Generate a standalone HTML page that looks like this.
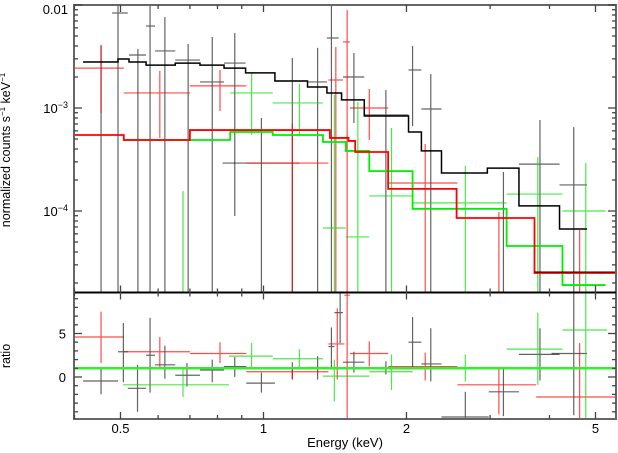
<!DOCTYPE html>
<html><head><meta charset="utf-8"><style>
body{margin:0;background:#fff;}
svg{display:block;font-family:"Liberation Sans",sans-serif;}
</style></head><body>
<svg id="chart" width="618" height="453" viewBox="0 0 618 453" xmlns="http://www.w3.org/2000/svg">
<defs>
<clipPath id="cTop"><rect x="74" y="5" width="542" height="287"/></clipPath>
<clipPath id="cBot"><rect x="74" y="292" width="542" height="127"/></clipPath>
</defs>
<g id="gTop" clip-path="url(#cTop)"></g>
<g id="gBot" clip-path="url(#cBot)"></g>
<g id="gAxes"></g>
<text x="10" y="150" font-size="12.5" text-anchor="middle" transform="rotate(-90 10 150)">normalized counts s<tspan font-size="8" dy="-5">−1</tspan><tspan dy="5"> keV</tspan><tspan font-size="8" dy="-5">−1</tspan></text>
<text x="10" y="356" font-size="12.5" text-anchor="middle" transform="rotate(-90 10 356)">ratio</text>
<text x="345" y="447" font-size="13" text-anchor="middle">Energy (keV)</text>
</svg>
<script>
// model step edges (keV) and values (counts s^-1 keV^-1)
const blackEdges=[0.417,0.494,0.521,0.566,0.652,0.735,0.826,0.917,1.057,1.238,1.36,1.46,1.63,2.02,2.15,2.37,2.96,3.45,4.2,4.8];
const blackModel=[2.8e-3,2.99e-3,2.8e-3,2.61e-3,2.73e-3,2.61e-3,2.44e-3,2.19e-3,1.83e-3,1.6e-3,1.4e-3,1.2e-3,8.36e-4,5.85e-4,3.83e-4,2.34e-4,2.61e-4,1.12e-4,6.68e-5];
const redEdges=[0.399,0.508,0.700,1.38,1.51,1.56,1.83,2.55,3.72,5.5];
const redModel=[5.47e-4,4.89e-4,6.11e-4,5.12e-4,4.79e-4,3.74e-4,1.64e-4,8.55e-5,2.5e-5];
const greenEdges=[0.508,0.851,1.046,1.334,1.49,1.67,2.06,3.25,4.26,5.25];
const greenModel=[4.89e-4,5.85e-4,5.47e-4,4.68e-4,3.83e-4,2.44e-4,1.05e-4,4.57e-5,1.91e-5];
const extraEdges=[3.72,5.5];
const extraModel=[2.56e-5];
// data points: [Elo, Ehi, E, value, errTop, errBottom]
const blackData=[[0.417,0.494,0.455,2.8e-3,4.09e-3,1e-5],[0.48,0.518,0.494,8.36e-3,1e-2,1e-5],[0.521,0.566,0.544,3.27e-3,3.74e-3,1e-5],[0.566,0.591,0.577,6.25e-3,1e-2,1e-5],[0.591,0.652,0.62,3.58e-3,7.65e-3,1e-5],[0.652,0.735,0.694,2.92e-3,4.18e-3,1e-5],[0.735,0.826,0.78,1.79e-3,4.89e-3,1e-5],[0.826,0.917,0.87,2.73e-3,5.35e-3,8.94e-5],[0.82,1.19,0.99,2.92e-4,8.0e-4,1e-5],[1.057,1.238,1.15,1.83e-3,3.06e-3,1e-5],[1.238,1.36,1.30,1.79e-3,3.83e-3,1e-5],[1.36,1.44,1.39,4.78e-3,1e-2,1e-5],[1.47,1.63,1.55,2.0e-3,3.42e-3,7.15e-4],[2.02,2.15,2.06,2.34e-3,4.0e-3,6.68e-4],[2.15,2.37,2.25,9.78e-4,2.14e-3,1e-5],[1.63,2.02,1.81,8.55e-4,1.5e-3,1e-5],[3.45,4.2,3.82,2.85e-4,7.64e-4,1e-5],[2.96,3.45,3.20,1.3e-5,2.39e-4,1e-5],[4.2,4.8,4.5,1.79e-4,6.53e-4,1e-5]];
const redData=[[0.399,0.508,0.455,2.44e-3,4.0e-3,8.94e-4],[0.508,0.70,0.605,1.4e-3,2.29e-3,5.12e-4],[0.70,0.92,0.81,1.64e-3,2.34e-3,9.35e-4],[0.92,1.37,1.15,2.92e-4,7.0e-4,1e-5],[1.37,1.47,1.42,1.87e-3,3.91e-3,1e-5],[1.47,1.52,1.50,4.38e-3,8.94e-3,1e-5],[1.52,1.83,1.67,1.0e-3,1.53e-3,4.89e-4],[1.83,2.56,2.19,1.87e-4,4.47e-4,1e-5],[2.9,3.3,3.13,1.3e-5,9.78e-5,1e-5],[4.5,4.8,4.63,1.3e-5,6.54e-5,1e-5]];
const greenData=[[0.6,0.75,0.677,1.3e-5,1.56e-4,1e-5],[0.851,1.046,0.944,1.4e-3,2.24e-3,5.47e-4],[1.046,1.334,1.19,1.12e-3,1.71e-3,5.47e-4],[1.334,1.49,1.41,6.84e-5,1.34e-3,1e-5],[1.49,1.67,1.58,5.6e-5,1.14e-3,1e-5],[1.67,2.06,1.86,1.4e-4,6.39e-4,1e-5],[2.06,3.25,2.66,1.2e-4,2.74e-4,1e-5],[3.25,4.26,3.78,1.46e-4,3.34e-4,1e-5],[4.26,5.25,4.77,1.0e-4,2.92e-4,1e-5]];
// ratio points: [Elo, Ehi, E, ratio, errTop, errBottom]
const blackRatio=[[0.417,0.494,0.455,-0.46,1.0,-2.0],[0.494,0.518,0.507,2.9,6.2,-0.6],[0.518,0.566,0.543,-1.3,1.4,-4.0],[0.566,0.591,0.577,2.5,6.8,-1.8],[0.591,0.652,0.62,1.4,3.6,-0.2],[0.652,0.735,0.69,0.2,1.6,-1.1],[0.735,0.826,0.78,0.8,2.0,-0.6],[0.826,0.92,0.87,1.2,2.3,0],[0.92,1.057,0.99,-0.7,0.5,-1.8],[1.01,1.238,1.15,1.0,1.7,-0.3],[1.238,1.37,1.30,1.1,2.4,-0.3],[1.37,1.41,1.39,3.5,5.7,1.1],[1.41,1.47,1.45,7.4,9.7,3.9],[1.47,1.63,1.55,1.7,2.9,0.5],[1.63,2.06,1.81,1.0,1.8,0.3],[2.02,2.15,2.06,4.0,6.9,1.1],[2.15,2.37,2.25,1.5,5.6,-0.5],[2.37,2.98,2.66,-4.6,-1.7,-6],[2.98,3.45,3.20,-1.7,1.1,-4.5],[3.45,4.2,3.82,2.6,5.6,-0.4],[4.04,4.8,4.5,2.7,11,-4.4]];
const redRatio=[[0.399,0.508,0.455,4.6,7.5,1.6],[0.508,0.70,0.605,2.9,4.6,1.1],[0.70,0.92,0.81,2.7,4.0,1.6],[0.92,1.37,1.15,0.6,1.1,-0.2],[1.37,1.48,1.43,3.8,7.9,-0.3],[1.48,1.52,1.50,9.4,11,-6],[1.52,1.83,1.67,2.7,4.1,1.2],[1.83,2.56,2.19,1.2,2.8,-0.4],[2.56,3.75,3.13,-0.9,1.1,-4.3],[3.75,5.5,4.63,-2.3,3.9,-6]];
const greenRatio=[[0.506,0.846,0.677,-0.9,0.9,-2.3],[0.846,1.046,0.944,2.4,3.9,0.9],[1.046,1.334,1.19,2.1,3.2,0.9],[1.334,1.67,1.41,0.1,2.0,-2.8],[1.67,2.06,1.86,0.6,2.6,-1.5],[2.06,3.25,2.66,1.1,2.6,-0.5],[3.25,4.26,3.78,3.2,7.4,-0.9],[4.26,5.29,4.77,5.4,11,-6]];
const unityRatio=[1];
const xMajor=[0.5,1,2,5];
const xMajorLabels=["0.5","1","2","5"];
const xMinor=[0.4,0.6,0.7,0.8,0.9,3,4];
const ratioMajor=[0,5];
const ratioMinor=[-4,-3,-2,-1,1,2,3,4,6,7,8,9];

const NS="http://www.w3.org/2000/svg";
function X(e){return 120.5+475*Math.log10(e/0.5);}
function Y(v){return 5+103*(-2-Math.log10(v));}
function R(r){return 377-8.7*r;}
function mk(tag,attrs,parent){const el=document.createElementNS(NS,tag);for(const k in attrs)el.setAttribute(k,attrs[k]);parent.appendChild(el);return el;}
const gTop=document.getElementById('gTop'),gBot=document.getElementById('gBot'),gAx=document.getElementById('gAxes');

function step(edges,vals,color,w,name){
  let d='';
  for(let i=0;i<vals.length;i++){const y=Y(vals[i]);d+=(i===0?'M':'L')+X(edges[i])+','+y+'L'+X(edges[i+1])+','+y;}
  const p=mk('path',{d:d,fill:'none',stroke:color,'stroke-width':w},gTop);
  
  
}
function pts(data,color,g,fy,name){
  data.forEach(function(p){
    const grp=mk('g',{stroke:color,'stroke-width':1.2,opacity:0.7},g);
    
    
    const y=fy(p[3]);
    mk('line',{x1:X(p[0]),x2:X(p[1]),y1:y,y2:y},grp);
    mk('line',{x1:X(p[2]),x2:X(p[2]),y1:fy(p[4]),y2:fy(p[5])},grp);
  });
}
pts(blackData,'#222',gTop,Y,'black-data-point');
pts(redData,'#f00',gTop,Y,'red-data-point');
pts(greenData,'#0d0',gTop,Y,'green-data-point');
step(greenEdges,greenModel,'#0e0',1.8,'green-model');
step(redEdges,redModel,'#f00',1.8,'red-model');
step(extraEdges,extraModel,'#000',1,'extra-model-line');
step(blackEdges,blackModel,'#000',1.5,'black-model');
pts(blackRatio,'#222',gBot,R,'black-ratio-point');
pts(redRatio,'#f00',gBot,R,'red-ratio-point');
pts(greenRatio,'#0d0',gBot,R,'green-ratio-point');
unityRatio.forEach(function(u){
  const l=mk('line',{x1:74,x2:616,y1:R(u),y2:R(u),stroke:'#3e3','stroke-width':2.5},gBot);
  
  
});

// frame
const fr=mk('rect',{x:74,y:5,width:542,height:414,fill:'none',stroke:'#666','stroke-width':2},gAx);


const mid=mk('line',{x1:74,x2:616,y1:292.5,y2:292.5,stroke:'#000','stroke-width':2},gAx);


function tick(x1,y1,x2,y2){mk('line',{x1:x1,y1:y1,x2:x2,y2:y2,stroke:'#444','stroke-width':1.3},gAx);}
// x ticks
[[xMajor,7],[xMinor,4]].forEach(function(set){
  set[0].forEach(function(e){const x=X(e),L=set[1];
    tick(x,5,x,5+L);tick(x,292.5-L,x,292.5+L);tick(x,419,x,419-L);});
});
xMajor.forEach(function(e,i){
  const t=mk('text',{x:X(e),y:433,'font-size':13,'text-anchor':'middle'},gAx);
  t.textContent=xMajorLabels[i];
  
  
});
// log y ticks
for(let dec=-5;dec<=-2;dec++){
  for(let m=1;m<=9;m++){
    const v=m*Math.pow(10,dec);const y=Y(v);
    if(y<4.5||y>292)continue;
    const L=(m===1)?8:4;
    tick(74,y,74+L,y);tick(616,y,616-L,y);
  }
}
[['0.01',1e-2],['10','1e-3','−3'],['10','1e-4','−4']].forEach(function(l){
  const v=l.length===2?l[1]:parseFloat(l[1]);
  const t=mk('text',{x:68,y:Y(v)+5,'font-size':13,'text-anchor':'end'},gAx);
  
  
  if(l.length===2){t.textContent=l[0];}
  else{t.textContent=l[0];const s=document.createElementNS(NS,'tspan');s.setAttribute('font-size','9');s.setAttribute('dy','-5');s.textContent=l[2];t.appendChild(s);}
  if(l.length===2)t.setAttribute('y',Y(v)+9);
});
ratioMajor.forEach(function(r){const y=R(r);tick(74,y,82,y);tick(616,y,608,y);
  const t=mk('text',{x:66,y:y+5,'font-size':13,'text-anchor':'end'},gAx);t.textContent=String(r);
  
  });
ratioMinor.forEach(function(r){const y=R(r);tick(74,y,78,y);tick(616,y,612,y);});
</script>
</body></html>
